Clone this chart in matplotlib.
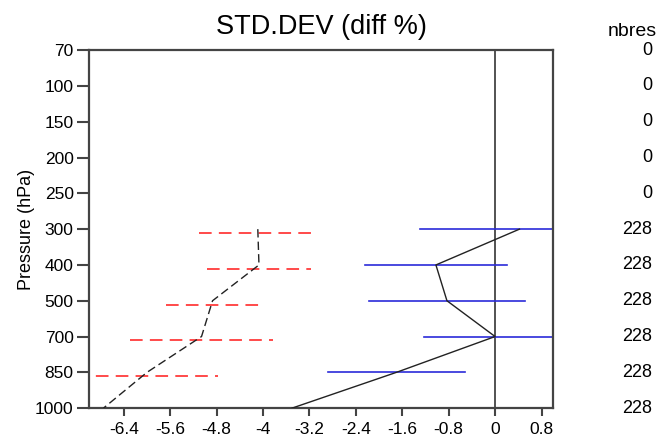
import matplotlib.pyplot as plt
import numpy as np

plt.rcParams['font.family'] = ['Liberation Sans', 'DejaVu Sans']

levels = ['70', '100', '150', '200', '250', '300', '400', '500', '700', '850', '1000']
nbres = [0, 0, 0, 0, 0, 228, 228, 228, 228, 228, 228]

# levels with data (index into levels)
data_levels = ['300', '400', '500', '700', '850', '1000']

# dashed black profile and its red spread bars
ref_mean = [-4.09, -4.07, -4.87, -5.06, -6.0, -6.75]
ref_err = [1.01, 0.89, 0.81, 1.24, 1.23, np.nan]

# solid profile and its blue spread bars
exp_mean = [0.42, -1.02, -0.83, 0.0, -1.7, -3.5]
exp_err = [1.71, 1.23, 1.35, 1.22, 1.18, np.nan]

xticks = [-6.4, -5.6, -4.8, -4, -3.2, -2.4, -1.6, -0.8, 0, 0.8]

pos = np.array([levels.index(l) for l in data_levels], dtype=float)

fig = plt.figure(figsize=(6.64, 4.48), dpi=100)
ax = fig.add_axes([0.134, 0.089, 0.699, 0.799])

ax.axvline(0, color='#444444', lw=1.3, zorder=1)

# red dashed spread bars (shifted slightly down)
for y, m, e in zip(pos + 0.11, ref_mean, ref_err):
    if np.isnan(e):
        continue
    ax.plot([m - e, m + e], [y, y], color='#ff3b3b', lw=1.3, dashes=(7, 4), zorder=2)

# blue spread bars
for y, m, e in zip(pos, exp_mean, exp_err):
    if np.isnan(e):
        continue
    ax.plot([m - e, m + e], [y, y], color='#2b2bd9', lw=1.2, zorder=2)

ax.plot(ref_mean, pos, color='#222222', lw=1.0, dashes=(6, 3), zorder=3)
ax.plot(exp_mean, pos, color='#222222', lw=1.0, zorder=3)

ax.set_xlim(-7.0, 1.0)
ax.set_ylim(len(levels) - 1, 0)
ax.set_yticks(range(len(levels)))
ax.set_yticklabels(levels)
ax.set_xticks(xticks)
ax.set_xticklabels(['%g' % t for t in xticks])
ax.tick_params(axis='y', length=9, width=1.5, color='#444444', labelsize=12.5, pad=2)
ax.tick_params(axis='x', length=6, width=1.5, color='#444444', labelsize=12.5, pad=4)
for s in ax.spines.values():
    s.set_color('#444444')
    s.set_linewidth(1.6)

ax.set_ylabel('Pressure (hPa)', fontsize=13)
ax.yaxis.set_label_coords(-0.117, 0.5)
ax.set_title('STD.DEV (diff %)', fontsize=19.5, pad=12)

trans = ax.get_yaxis_transform()
for i, n in enumerate(nbres):
    ax.text(1.213, i, str(n), transform=trans, ha='right', va='center',
            fontsize=13, clip_on=False)
fig.text(0.952, 0.929, 'nbres', ha='center', va='center', fontsize=14)

plt.savefig('out.png', dpi=100)
